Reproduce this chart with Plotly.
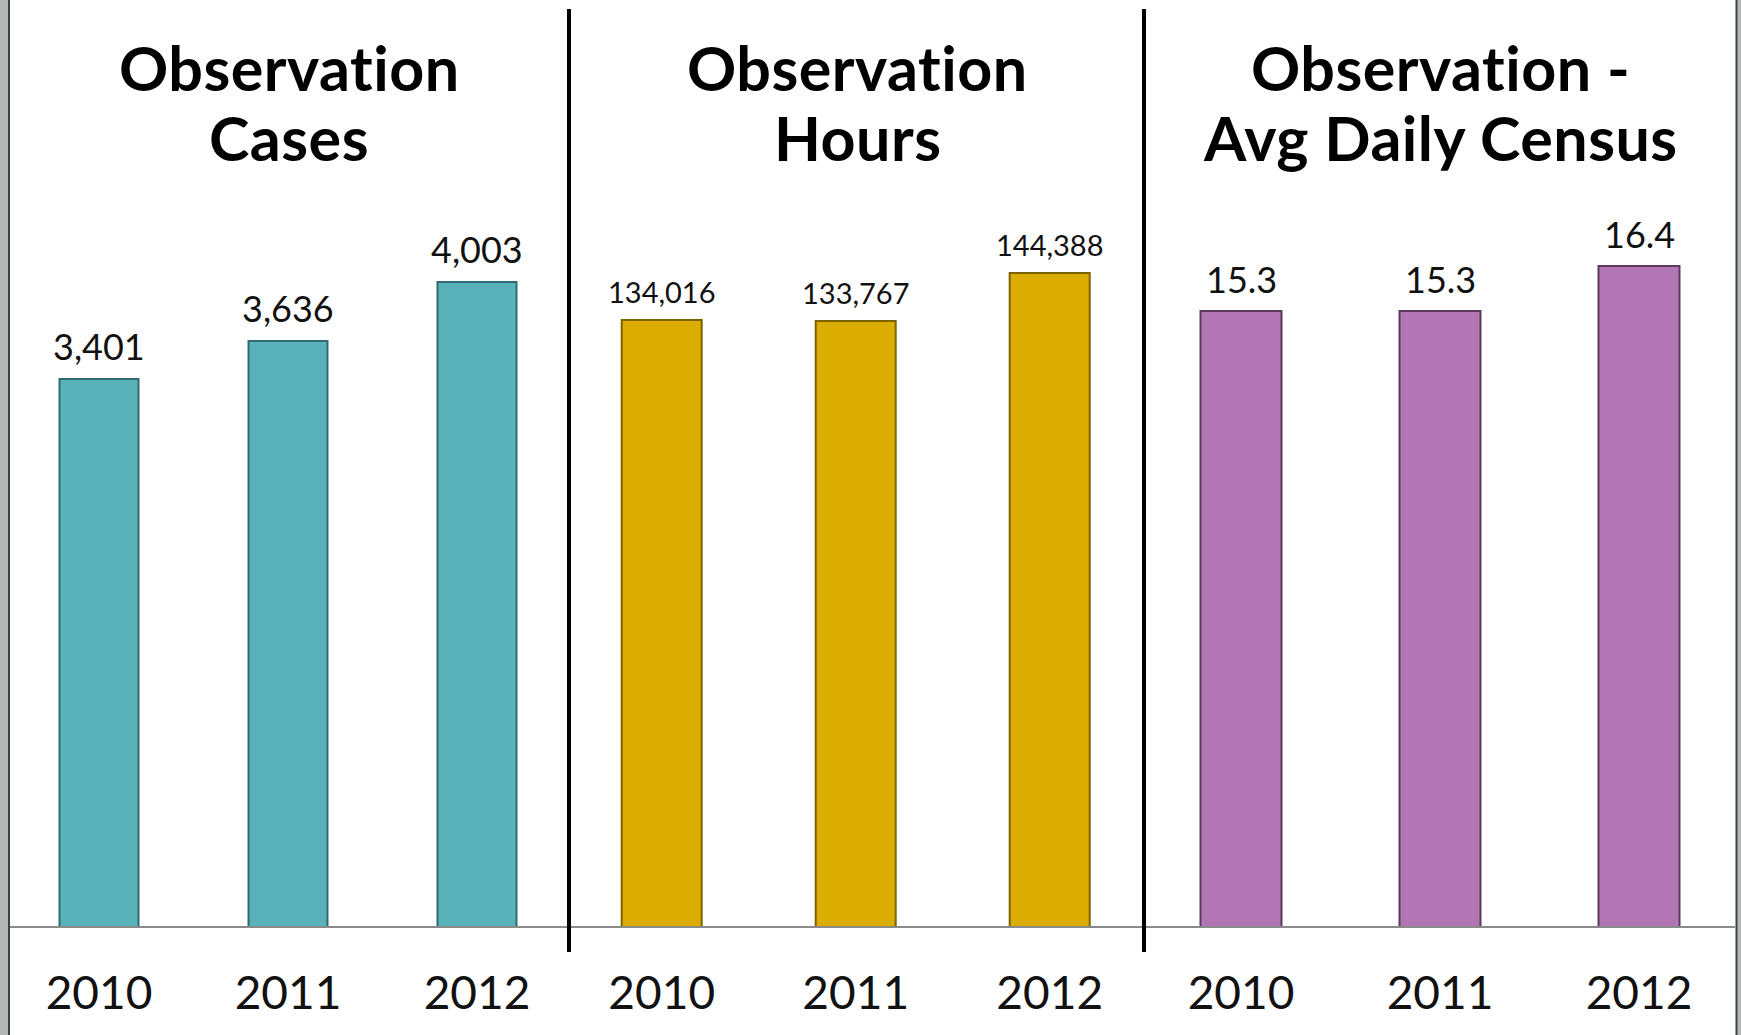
import plotly.graph_objects as go

# ---- data ----
years = ["2010", "2011", "2012"]
obs_cases = [3401, 3636, 4003]
obs_hours = [134016, 133767, 144388]
obs_adc = [15.3, 15.3, 16.4]

case_labels = ["3,401", "3,636", "4,003"]
hour_labels = ["134,016", "133,767", "144,388"]
adc_labels = ["15.3", "15.3", "16.4"]

titles = [["Observation", "Cases"], ["Observation", "Hours"], ["Observation -", "Avg Daily Census"]]

W, H = 1741, 1035
FONT = "Lato, 'Open Sans', 'DejaVu Sans', sans-serif"


def px(x):
    return x / W


def py(y):
    return 1 - y / H


base_y = 927
top_y = 189
ydom = [py(base_y), py(top_y)]

panels = [
    dict(vals=obs_cases, labels=case_labels, color="#59b1b9", line="#2f6b70",
         dom=[4.5, 571.5], width=0.423, ymax=4577, lsize=36, shift=33),
    dict(vals=obs_hours, labels=hour_labels, color="#dbad00", line="#7d6200",
         dom=[564.7, 1146.7], width=0.412, ymax=162830, lsize=29, shift=28),
    dict(vals=obs_adc, labels=adc_labels, color="#b176b3", line="#5c3a5e",
         dom=[1141.5, 1738.5], width=0.41, ymax=18.32, lsize=36, shift=32),
]

fig = go.Figure()
annotations = []
for i, p in enumerate(panels):
    xa = "x" if i == 0 else f"x{i+1}"
    ya = "y" if i == 0 else f"y{i+1}"
    fig.add_trace(go.Bar(
        x=years, y=p["vals"], xaxis=xa, yaxis=ya,
        width=p["width"],
        marker=dict(color=p["color"], line=dict(color=p["line"], width=2)),
        showlegend=False, hoverinfo="x+y",
    ))
    for k, (v, lab) in enumerate(zip(p["vals"], p["labels"])):
        annotations.append(dict(
            x=k, y=v, xref=xa, yref=ya, text=lab, showarrow=False,
            yanchor="middle", yshift=p["shift"],
            font=dict(family=FONT, size=p["lsize"], color="#111111"),
        ))
    axkey = "xaxis" if i == 0 else f"xaxis{i+1}"
    aykey = "yaxis" if i == 0 else f"yaxis{i+1}"
    fig.update_layout({
        axkey: dict(domain=[px(p["dom"][0]), px(p["dom"][1])], anchor=ya,
                    type="category", range=[-0.5, 2.5], showgrid=False,
                    zeroline=False, showline=False, ticks="outside", ticklen=0,
                    ticklabelstandoff=26,
                    tickfont=dict(family=FONT, size=46, color="#111111"),
                    fixedrange=True),
        aykey: dict(domain=ydom, anchor=xa, range=[0, p["ymax"]], visible=False,
                    showgrid=False, zeroline=False, fixedrange=True),
    })

# titles
title_cx = [289, 857, 1440]
for cx, (l1, l2) in zip(title_cx, titles):
    for txt, cy in ((l1, 67), (l2, 137)):
        annotations.append(dict(
            x=px(cx), y=py(cy), xref="paper", yref="paper",
            text=f"<b><span style='letter-spacing:0.5px'>{txt}</span></b>",
            showarrow=False, xanchor="center", yanchor="middle",
            font=dict(family=FONT, size=61, color="#000000"),
        ))

shapes = [
    # left / right slide edges
    dict(type="rect", xref="paper", yref="paper", x0=0, x1=px(8), y0=0, y1=1,
         fillcolor="#b3b7b7", line_width=0, layer="above"),
    dict(type="line", xref="paper", yref="paper", x0=px(9), x1=px(9), y0=0, y1=1,
         line=dict(color="#3b4242", width=2), layer="above"),
    dict(type="rect", xref="paper", yref="paper", x0=px(1737), x1=1, y0=0, y1=1,
         fillcolor="#b3b7b7", line_width=0, layer="above"),
    dict(type="line", xref="paper", yref="paper", x0=px(1736.5), x1=px(1736.5), y0=0, y1=1,
         line=dict(color="#3b4242", width=2), layer="above"),
    # baseline
    dict(type="line", xref="paper", yref="paper", x0=px(10), x1=px(1735),
         y0=py(base_y), y1=py(base_y), line=dict(color="#8a8a8a", width=2), layer="above"),
    # dividers
    dict(type="line", xref="paper", yref="paper", x0=px(569), x1=px(569),
         y0=py(9), y1=py(952), line=dict(color="#000000", width=4), layer="above"),
    dict(type="line", xref="paper", yref="paper", x0=px(1144), x1=px(1144),
         y0=py(9), y1=py(952), line=dict(color="#000000", width=4), layer="above"),
]

fig.update_layout(
    width=W, height=H, margin=dict(l=0, r=0, t=0, b=0),
    paper_bgcolor="white", plot_bgcolor="rgba(0,0,0,0)",
    annotations=annotations, shapes=shapes, bargap=0,
    font=dict(family=FONT),
)

fig.write_html(
    "out.html",
    config={"displayModeBar": False},
    post_script="document.body.style.margin='0';document.body.style.overflow='hidden';",
)
